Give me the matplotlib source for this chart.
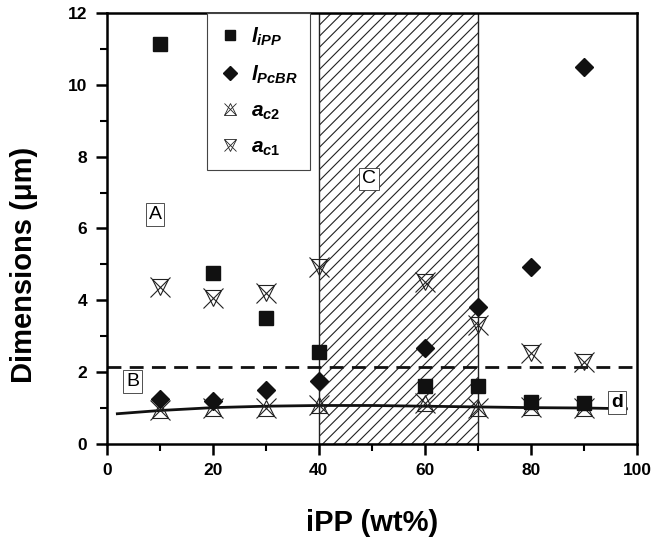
import matplotlib
matplotlib.use("Agg")
import matplotlib.pyplot as plt
from matplotlib.lines import Line2D
from matplotlib.legend_handler import HandlerTuple
from matplotlib.ticker import MultipleLocator

plt.rcParams["font.family"] = "Liberation Sans"
plt.rcParams["mathtext.fontset"] = "custom"
plt.rcParams["mathtext.it"] = "Liberation Sans:italic:bold"
plt.rcParams["mathtext.rm"] = "Liberation Sans:bold"
plt.rcParams["hatch.linewidth"] = 0.8

# iPP content (wt%)
ipp = [10, 20, 30, 40, 60, 70, 80, 90]
# long periods / lamellar dimensions (um)
l_ipp = [11.15, 4.76, 3.52, 2.57, 1.62, 1.60, 1.18, 1.15]
l_pcbr = [1.26, 1.20, 1.51, 1.74, 2.68, 3.80, 4.92, 10.49]
a_c2 = [0.95, 1.00, 1.00, 1.09, 1.15, 1.00, 1.04, 1.00]
a_c1 = [4.37, 4.05, 4.20, 4.92, 4.50, 3.30, 2.52, 2.27]
# trend line d
d_x = [2, 10, 20, 30, 40, 50, 60, 70, 80, 90, 98]
d_y = [0.84, 0.93, 1.01, 1.05, 1.07, 1.07, 1.05, 1.03, 1.01, 1.00, 0.98]
level_b = 2.15
region_c = (40, 70)

fig = plt.figure(figsize=(6.67, 5.44), dpi=100)
ax = fig.add_axes([0.160, 0.184, 0.795, 0.792])

ax.axvspan(*region_c, facecolor="white", edgecolor="#222", hatch="///", lw=1.0, zorder=0)
ax.axhline(level_b, color="#111", lw=2, ls=(0, (5, 3)), zorder=1)
ax.plot(d_x, d_y, color="#111", lw=2, zorder=2)

sq, = ax.plot(ipp, l_ipp, "s", color="#111", ms=10.5, ls="none", zorder=4)
dm, = ax.plot(ipp, l_pcbr, "D", color="#111", ms=9.5, ls="none", zorder=4)
t2, = ax.plot(ipp, a_c2, "^", mfc="none", mec="#222", mew=0.8, ms=12, ls="none", zorder=3)
x2, = ax.plot(ipp, a_c2, "x", mec="#222", mew=0.8, ms=15, ls="none", zorder=3)
t1, = ax.plot(ipp, a_c1, "v", mfc="none", mec="#222", mew=0.8, ms=12, ls="none", zorder=3)
x1, = ax.plot(ipp, a_c1, "x", mec="#222", mew=0.8, ms=15, ls="none", zorder=3)

box = dict(boxstyle="square,pad=0.15", fc="white", ec="#333", lw=0.6)
ax.text(9.1, 6.4, "A", fontsize=14, ha="center", va="center", bbox=box, zorder=5)
ax.text(4.9, 1.73, "B", fontsize=14, ha="center", va="center", bbox=box, zorder=5)
ax.text(49.4, 7.38, "C", fontsize=14, ha="center", va="center", bbox=box, zorder=5)
ax.text(96.2, 1.15, "d", fontsize=14, fontweight="bold", ha="center", va="center", bbox=box, zorder=5)

h_sq = Line2D([], [], marker="s", color="#111", ms=7, ls="none")
h_dm = Line2D([], [], marker="D", color="#111", ms=7, ls="none")
h_t2 = Line2D([], [], marker="^", mfc="none", mec="#222", mew=0.6, ms=8, ls="none")
h_x2 = Line2D([], [], marker="x", mec="#222", mew=0.6, ms=9, ls="none")
h_t1 = Line2D([], [], marker="v", mfc="none", mec="#222", mew=0.6, ms=8, ls="none")
h_x1 = Line2D([], [], marker="x", mec="#222", mew=0.6, ms=9, ls="none")
leg = ax.legend([h_sq, h_dm, (h_t2, h_x2), (h_t1, h_x1)],
                [r"$l_{iPP}$", r"$l_{PcBR}$", r"$a_{c2}$", r"$a_{c1}$"],
                handler_map={tuple: HandlerTuple(ndivide=1, pad=0)},
                loc="upper left", bbox_to_anchor=(0.19, 1.0), fontsize=15,
                frameon=True, fancybox=False, edgecolor="#444", framealpha=1,
                handlelength=1.0, handletextpad=0.5, labelspacing=0.75,
                borderpad=0.6, borderaxespad=0)
leg.get_frame().set_linewidth(0.8)
leg.set_zorder(6)

ax.set_xlim(0, 100)
ax.set_ylim(0, 12)
ax.xaxis.set_major_locator(MultipleLocator(20))
ax.xaxis.set_minor_locator(MultipleLocator(10))
ax.yaxis.set_major_locator(MultipleLocator(2))
ax.yaxis.set_minor_locator(MultipleLocator(1))
ax.tick_params(which="major", direction="out", length=8, width=1.8, labelsize=12.5, pad=6)
ax.tick_params(which="minor", direction="out", length=5, width=1.5)
for lab in ax.get_xticklabels() + ax.get_yticklabels():
    lab.set_fontweight("bold")
for sp in ax.spines.values():
    sp.set_linewidth(1.8)

ax.set_xlabel("iPP (wt%)", fontsize=21, fontweight="bold")
ax.set_ylabel("Dimensions (\u03bcm)", fontsize=21, fontweight="bold")
ax.xaxis.set_label_coords(0.5, -0.150)
ax.yaxis.set_label_coords(-0.130, 0.415)

fig.savefig("out.png", dpi=100)
